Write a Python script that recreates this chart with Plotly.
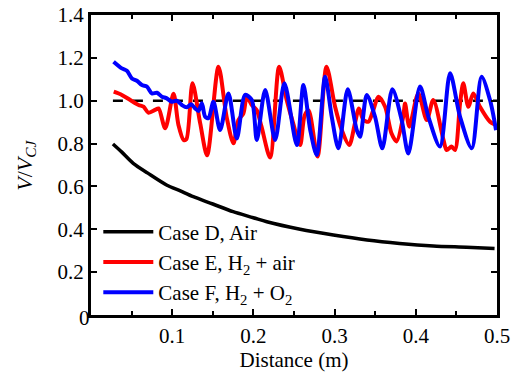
import plotly.graph_objects as go

# ---- data ----
d_x = [0.027, 0.038, 0.052, 0.07, 0.093, 0.11, 0.126, 0.15, 0.175, 0.2, 0.2165,
       0.2575, 0.2985, 0.34, 0.38, 0.4215, 0.4625, 0.497]
d_y = [0.798, 0.76, 0.708, 0.662, 0.607, 0.579, 0.552, 0.518, 0.482, 0.454, 0.435,
       0.400, 0.373, 0.35, 0.334, 0.322, 0.316, 0.31]

e_x = [0.028, 0.038, 0.0483, 0.0586, 0.0647, 0.0708, 0.079, 0.0832, 0.0914, 0.1016,
       0.1077, 0.114, 0.1175, 0.125, 0.1345, 0.143, 0.157, 0.167, 0.1754, 0.1815,
       0.1877, 0.1919, 0.198, 0.204, 0.210, 0.2206, 0.2317, 0.241, 0.249, 0.2575,
       0.263, 0.268, 0.279, 0.29, 0.3006, 0.3088, 0.318, 0.325, 0.33, 0.3355,
       0.3416, 0.3477, 0.3539, 0.3622, 0.37, 0.3763, 0.3847, 0.3868, 0.392, 0.4031,
       0.4135, 0.4215, 0.4339, 0.438, 0.444, 0.4483, 0.4545, 0.4585, 0.4647, 0.4708,
       0.479, 0.4914, 0.497]
e_y = [1.042, 1.027, 1.003, 0.98, 0.972, 0.944, 0.957, 0.964, 0.871, 1.032,
       0.887, 0.817, 0.82, 1.081, 0.894, 0.745, 1.159, 0.925, 0.801, 0.91,
       0.941, 1.019, 0.98, 0.957, 0.879, 0.735, 1.159, 1.003, 0.894, 0.793,
       0.93, 0.955, 0.74, 1.159, 0.972, 0.863, 0.793, 0.894, 0.964, 0.91,
       0.902, 0.957, 1.019, 0.972, 0.848, 0.81, 0.93, 0.987, 0.879, 1.034,
       0.91, 1.003, 0.82, 0.77, 0.786, 0.77, 0.987, 1.081, 0.972, 1.034,
       0.972, 0.902, 0.89]

f_x = [0.0278, 0.038, 0.0442, 0.0504, 0.0565, 0.0627, 0.0689, 0.075, 0.0812, 0.0873,
       0.0934, 0.0996, 0.1058, 0.1119, 0.118, 0.1234, 0.1283, 0.1324, 0.1365, 0.1406,
       0.1447, 0.1508, 0.159, 0.1693, 0.1796, 0.1898, 0.198, 0.2042, 0.2145, 0.2268,
       0.2382, 0.2535, 0.2616, 0.27, 0.278, 0.2883, 0.2965, 0.3047, 0.3162, 0.3273,
       0.3314, 0.3396, 0.3498, 0.3588, 0.3711, 0.3826, 0.3908, 0.4052, 0.4155, 0.4298,
       0.4422, 0.4545, 0.4689, 0.481, 0.4914, 0.4988]
f_y = [1.182, 1.151, 1.14, 1.104, 1.093, 1.073, 1.066, 1.034, 1.037, 1.019,
       1.011, 0.995, 1.0, 0.98, 0.969, 0.983, 0.964, 0.952, 0.988, 0.925,
       0.918, 0.995, 0.863, 1.034, 0.824, 1.027, 1.003, 0.817, 1.05, 0.817,
       1.081, 0.793, 1.073, 0.863, 0.747, 1.112, 0.925, 0.778, 1.053, 0.863,
       0.832, 1.027, 0.925, 0.778, 1.053, 0.91, 0.754, 1.066, 0.925, 0.786,
       1.128, 0.925, 0.778, 1.112, 1.003, 0.863]

ref_x = [0.027, 0.5]
ref_y = [1.0, 1.0]

x_ticks = [0.1, 0.2, 0.3, 0.4, 0.5]
x_ticktext = ["0.1", "0.2", "0.3", "0.4", "0.5"]
y_ticks = [0.2, 0.4, 0.6, 0.8, 1.0, 1.2, 1.4]
y_ticktext = ["0.2", "0.4", "0.6", "0.8", "1.0", "1.2", "1.4"]

names = ["Case D, Air", "Case E, H<sub>2</sub> + air", "Case F, H<sub>2</sub> + O<sub>2</sub>"]

FONT = "Times New Roman, Liberation Serif, Times, serif"

fig = go.Figure()
fig.add_trace(go.Scatter(x=ref_x, y=ref_y, mode="lines", showlegend=False,
                         line=dict(color="black", width=2.5, dash="10px,10px")))
fig.add_trace(go.Scatter(x=d_x, y=d_y, mode="lines", name=names[0],
                         line=dict(color="black", width=3.5, shape="spline", smoothing=0.8)))
fig.add_trace(go.Scatter(x=e_x, y=e_y, mode="lines", name=names[1],
                         line=dict(color="#ff0000", width=4, shape="spline", smoothing=0.8)))
fig.add_trace(go.Scatter(x=f_x, y=f_y, mode="lines", name=names[2],
                         line=dict(color="#0000ff", width=4, shape="spline", smoothing=0.8)))

axis_common = dict(showgrid=False, zeroline=False, showline=True, linewidth=3,
                   linecolor="black", mirror="ticks", ticks="inside", tickwidth=2,
                   tickcolor="black", ticklen=6, automargin=False,
                   tickfont=dict(family=FONT, size=21, color="black"))

fig.update_xaxes(range=[0, 0.5], tickvals=x_ticks, ticktext=x_ticktext,
                 minor=dict(dtick=0.05, ticks="inside", ticklen=4, tickwidth=2, tickcolor="black"),
                 title=dict(text="Distance (m)", font=dict(family=FONT, size=21, color="black"),
                            standoff=3),
                 **axis_common)
fig.update_yaxes(range=[0, 1.4], tickvals=y_ticks, ticktext=y_ticktext, **axis_common)

fig.add_annotation(text="<i>V</i>/<i>V</i><sub><i>CJ</i></sub>", xref="paper", yref="paper",
                   x=-0.2, y=0.5, textangle=-90, showarrow=False,
                   font=dict(family=FONT, size=22, color="black"))
fig.add_annotation(text="0", xref="paper", yref="paper", x=-0.034, y=-0.056,
                   showarrow=False, font=dict(family=FONT, size=21, color="black"))

fig.update_layout(
    width=512, height=376,
    margin=dict(l=91, r=15, t=15, b=61),
    paper_bgcolor="white", plot_bgcolor="white",
    font=dict(family=FONT, color="black"),
    legend=dict(x=0.018, y=0.345, xanchor="left", yanchor="top",
                bgcolor="rgba(0,0,0,0)", itemwidth=50, tracegroupgap=0,
                font=dict(family=FONT, size=21, color="black")),
    showlegend=True,
)

fig.write_html("out.html")
